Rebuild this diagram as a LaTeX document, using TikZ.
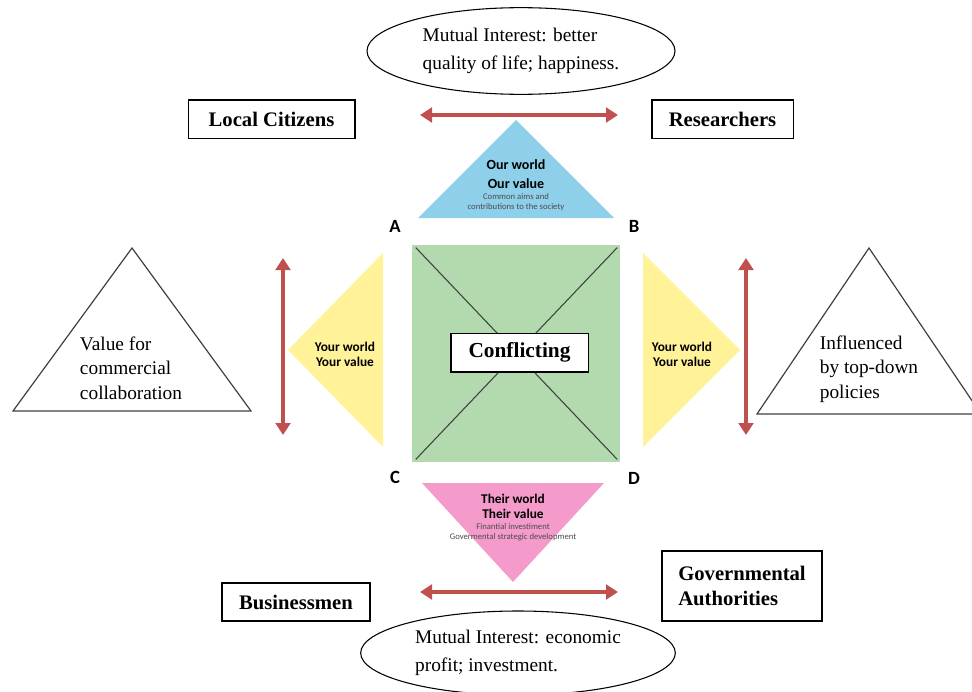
\documentclass[tikz,border=0pt]{standalone}
\usepackage{fontspec}
\setmainfont{Liberation Serif}
\newfontfamily\trifont{Carlito}
\usetikzlibrary{shapes,arrows.meta,positioning}

\definecolor{arrowred}{RGB}{192,80,77}
\definecolor{ourblue}{RGB}{142,207,234}
\definecolor{youryellow}{RGB}{255,242,153}
\definecolor{theirpink}{RGB}{244,155,203}
\definecolor{conflictgreen}{RGB}{178,218,174}

\begin{document}
\begin{tikzpicture}[
        x=0.75pt, y=-0.75pt,
        actor/.style={
            rectangle,
            draw,
            line width=1pt,
            fill=white,
            inner sep=0pt,
            font=\bfseries\fontsize{15.5}{19}\selectfont
        },
        interest/.style={
            draw,
            ellipse,
            line width=0.8pt,
            inner sep=0pt,
            align=left,
            font=\fontsize{14.5}{20.5}\selectfont
        },
        outer/.style={draw=black!75, line width=0.9pt},
        outertext/.style={align=left, font=\fontsize{14.5}{18.5}\selectfont},
        worldtitle/.style={align=center, inner sep=0pt, font=\trifont\bfseries\fontsize{10}{11.25}\selectfont},
        worldnote/.style={align=center, inner sep=0pt, text=black!70, font=\trifont\fontsize{6.5}{7.5}\selectfont},
        corner/.style={font=\trifont\bfseries\fontsize{14}{16}\selectfont},
        twoway/.style={draw=arrowred, line width=3pt, {Triangle[length=9pt,width=11pt]}-{Triangle[length=9pt,width=11pt]}}
    ]
        \clip (0,0) rectangle (972,692);

        % -- Ellipses (mutual interest) --
        \node [interest, minimum width=231pt, minimum height=65pt] (topint) at (521,51)
            {Mutual Interest: better\\quality of life;\ happiness.};
        \node [interest, minimum width=236pt, minimum height=63pt] (botint) at (518,653)
            {Mutual Interest: economic\\profit; investment.};

        % -- Actors --
        \node [actor, minimum width=125pt, minimum height=29pt] (citizens) at (271.5,119.5) {Local Citizens};
        \node [actor, minimum width=106pt, minimum height=29pt] (researchers) at (722.5,119.5) {Researchers};
        \node [actor, minimum width=111pt, minimum height=28.5pt] (business) at (296,602) {Businessmen};
        \node [actor, minimum width=120pt, minimum height=52.5pt, align=left] (govern) at (742,586) {Governmental\\Authorities};

        % -- Worlds (coloured triangles) --
        \fill [ourblue] (516,120) -- (614,218) -- (418,218) -- cycle;
        \fill [youryellow] (288,350) -- (383,253) -- (383,447) -- cycle;
        \fill [youryellow] (740,350) -- (643,253) -- (643,447) -- cycle;
        \fill [theirpink] (422,483) -- (604,483) -- (513,582) -- cycle;

        \node [worldtitle, font=\trifont\bfseries\fontsize{10.5}{14}\selectfont] (ourtitle) at (516,174) {Our world\\Our value};
        \node [worldnote] (ournote) at (516,202.5) {Common aims and\\contributions to the society};
        \node [worldtitle] (yourleft) at (345,354.5) {Your world\\Your value};
        \node [worldtitle] (yourright) at (682,354.5) {Your world\\Your value};
        \node [worldtitle] (theirtitle) at (513,506.5) {Their world\\Their value};
        \node [worldnote] (theirnote) at (513,532) {Finantial investiment\\Govermental strategic development};

        % -- Centre square --
        \node [rectangle, fill=conflictgreen, minimum width=156pt, minimum height=163pt] (square) at (516,353.5) {};
        \draw [black!75, line width=0.8pt] ([shift={(4,3)}]square.north west) -- ([shift={(-3,-3)}]square.south east);
        \draw [black!75, line width=0.8pt] ([shift={(-3,3)}]square.north east) -- ([shift={(4,-3)}]square.south west);
        \node [actor, minimum width=103pt, minimum height=29pt, font=\bfseries\fontsize{16}{19}\selectfont] (conflict) at (519.5,352.5) {Conflicting};

        \node [corner] (A) at (395,226) {A};
        \node [corner] (B) at (634,226) {B};
        \node [corner] (C) at (395,477) {C};
        \node [corner] (D) at (634,478) {D};

        % -- Outer triangles --
        \draw [outer] (132,248) -- (251,411) -- (13,411) -- cycle;
        \draw [outer] (869,248) -- (981,414) -- (757,414) -- cycle;
        \node [outertext] (commercial) at (131,368) {Value for\\commercial\\collaboration};
        \node [outertext] (policies) at (869,369) {Influenced\\by top-down\\policies};

        % -- Double arrows --
        \coordinate (topL) at (420,115);
        \coordinate (topR) at (618,115);
        \coordinate (botL) at (420,592);
        \coordinate (botR) at (618,592);
        \coordinate (leftT) at (283,258);
        \coordinate (leftB) at (283,435);
        \coordinate (rightT) at (746,258);
        \coordinate (rightB) at (746,435);

        \path [twoway] (topL) -- (topR);
        \path [twoway] (botL) -- (botR);
        \path [twoway] (leftT) -- (leftB);
        \path [twoway] (rightT) -- (rightB);

    \end{tikzpicture}
\end{document}
